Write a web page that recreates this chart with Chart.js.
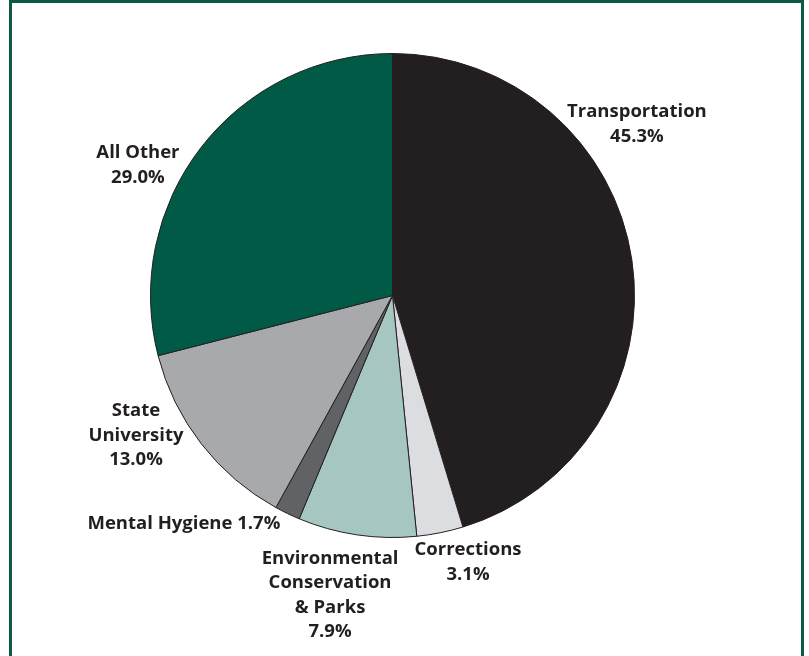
<!DOCTYPE html>
<html>
<head>
<meta charset="utf-8">
<title>Capital spending by function</title>
<script src="https://cdn.jsdelivr.net/npm/chart.js@4"></script>
<style>
  html, body { margin: 0; padding: 0; background: #fff; overflow: hidden; }
  #frame {
    position: absolute;
    left: 9px; top: 0;
    width: 789px; height: 700px;
    border: 3px solid #0a5a47;
    border-bottom: none;
  }
  #wrap { position: absolute; left: 0; top: 0; width: 809px; height: 656px; }
</style>
</head>
<body>
<div id="frame"></div>
<div id="wrap"><canvas id="pie" width="809" height="656"></canvas></div>
<script>
'use strict';

// *********** DATA ***********
let categories = [
  ['Transportation', '45.3%'],
  ['Corrections', '3.1%'],
  ['Environmental', 'Conservation', '& Parks', '7.9%'],
  ['Mental Hygiene 1.7%'],
  ['State', 'University', '13.0%'],
  ['All Other', '29.0%']
];
let shares = [45.3, 3.1, 7.9, 1.7, 13.0, 29.0];
let sliceColors = ['#231f20', '#dcdde0', '#a6c7c1', '#616265', '#a7a9ac', '#005a46'];

// label block centres, in units of the pie radius from its centre
let labelSpots = [
  { dx: 1.010, dy: -0.707 },
  { dx: 0.312, dy: 1.103 },
  { dx: -0.258, dy: 1.238 },
  { dx: -0.862, dy: 0.942 },
  { dx: -1.060, dy: 0.579 },
  { dx: -1.052, dy: -0.539 }
];

// ********** LABEL PLUGIN ***********
let sliceLabels = {
  id: 'sliceLabels',
  afterDraw(chart) {
    let ctx = chart.ctx;
    let arcs = chart.getDatasetMeta(0).data;
    ctx.save();
    ctx.fillStyle = '#231f20';
    ctx.font = 'bold 18.5px "Open Sans", sans-serif';
    ctx.textAlign = 'center';
    ctx.textBaseline = 'middle';
    let lineH = 24.5;
    for (let i = 0; i < arcs.length; i++) {
      let arc = arcs[i];
      let r = arc.outerRadius;
      let cx = arc.x + labelSpots[i].dx * r;
      let cy = arc.y + labelSpots[i].dy * r;
      let lines = categories[i];
      let top = cy - (lines.length - 1) * lineH / 2;
      for (let j = 0; j < lines.length; j++) {
        ctx.fillText(lines[j], cx, top + j * lineH);
      }
    }
    ctx.restore();
  }
};

// ********** CHART ***********
let ctx = document.getElementById('pie').getContext('2d');

new Chart(ctx, {
  type: 'pie',
  data: {
    labels: categories.map(c => c.join(' ')),
    datasets: [{
      data: shares,
      backgroundColor: sliceColors,
      borderColor: '#231f20',
      borderWidth: 1
    }]
  },
  options: {
    responsive: false,
    animation: false,
    layout: { padding: { top: 53, bottom: 118, left: 0, right: 24 } },
    plugins: {
      legend: { display: false },
      tooltip: { enabled: false }
    }
  },
  plugins: [sliceLabels]
});
</script>
</body>
</html>
